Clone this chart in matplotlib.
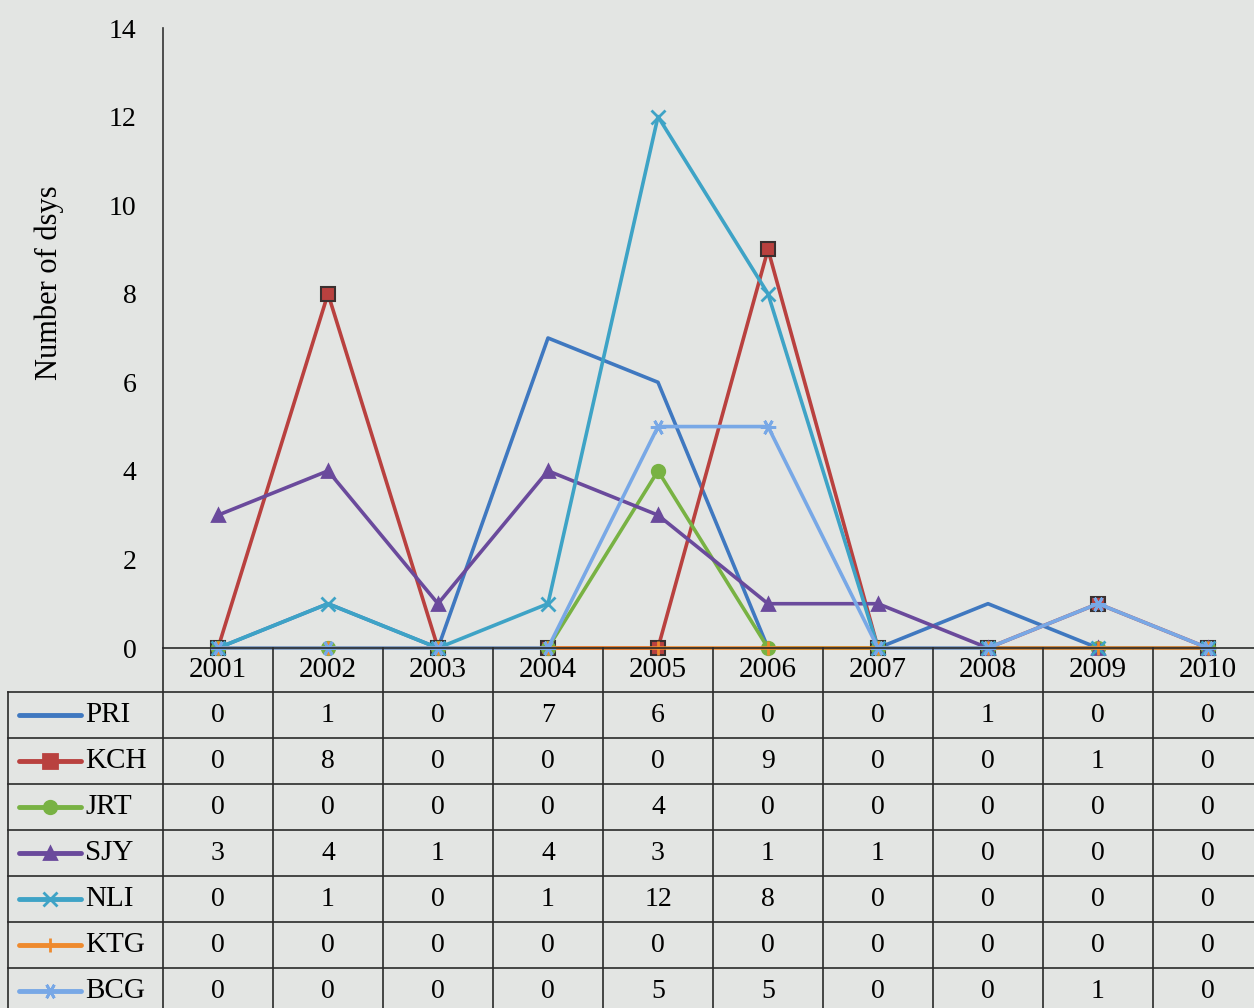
import numpy as np
import matplotlib
matplotlib.use("Agg")
import matplotlib.pyplot as plt
from matplotlib.lines import Line2D

years = ["2001", "2002", "2003", "2004", "2005", "2006", "2007", "2008", "2009", "2010"]
names = ["PRI", "KCH", "JRT", "SJY", "NLI", "KTG", "BCG"]
pri = [0, 1, 0, 7, 6, 0, 0, 1, 0, 0]
kch = [0, 8, 0, 0, 0, 9, 0, 0, 1, 0]
jrt = [0, 0, 0, 0, 4, 0, 0, 0, 0, 0]
sjy = [3, 4, 1, 4, 3, 1, 1, 0, 0, 0]
nli = [0, 1, 0, 1, 12, 8, 0, 0, 0, 0]
ktg = [0, 0, 0, 0, 0, 0, 0, 0, 0, 0]
bcg = [0, 0, 0, 0, 5, 5, 0, 0, 1, 0]
series = [pri, kch, jrt, sjy, nli, ktg, bcg]

colors = ["#3f78c0", "#b9413f", "#78b243", "#6a4a9c", "#3ea3c6", "#ee8a2e", "#78a8e6"]
markers = [None, "s", "o", "^", "x", "|", (6, 2, 90)]
msizes = [0, 10, 9, 9, 10, 10, 11]

bg = "#e3e5e3"
fs = 20
plt.rcParams["font.family"] = ["Liberation Serif", "DejaVu Serif"]

W, H = 1254, 1008
fig = plt.figure(figsize=(W / 100, H / 100), dpi=100, facecolor=bg)

# pixel geometry
ax_left, ax_top, ax_bot = 163, 28, 648
col_w = 110
ax_right = ax_left + col_w * len(years)

ax = fig.add_axes([ax_left / W, 1 - ax_bot / H, (ax_right - ax_left) / W, (ax_bot - ax_top) / H])
ax.set_facecolor(bg)
x = np.arange(len(years))
for i, s in enumerate(series):
    sq = markers[i] == "s"
    ax.plot(x, s, color=colors[i], lw=2.6, marker=markers[i], ms=msizes[i],
            mfc=colors[i], mec="#3a3030" if sq else colors[i],
            mew=1.5 if sq else 2, zorder=2 + i, clip_on=False,
            solid_joinstyle="round")
ax.set_xlim(-0.5, len(years) - 0.5)
ax.set_ylim(0, 14)
ax.set_yticks(range(0, 15, 2))
ax.set_xticks([])
for sp in ["top", "right", "bottom"]:
    ax.spines[sp].set_visible(False)
ax.spines["left"].set_color("#333333")
ax.spines["left"].set_linewidth(1.2)
ax.tick_params(axis="y", length=0, pad=19, labelsize=fs)
ax.set_ylabel("Number of dsys", fontsize=22)
ax.yaxis.set_label_coords(-0.09, 0.589)

# table
tx0 = 8
tab = fig.add_axes([0, 0, 1, 1], facecolor="none")
tab.set_xlim(0, W)
tab.set_ylim(H, 0)
tab.axis("off")

head_bot = 692
row_h = 46
lc = "#2a2a2a"
# header row
tab.plot([ax_left, W], [ax_bot, ax_bot], color=lc, lw=1.2)
for j, yr in enumerate(years):
    cx = ax_left + col_w * (j + 0.5)
    tab.text(cx, (ax_bot + head_bot) / 2, yr, ha="center", va="center", fontsize=21)
for j in range(len(years) + 1):
    xx = ax_left + col_w * j
    tab.plot([xx, xx], [ax_bot, H], color=lc, lw=1.2)
tab.plot([tx0, tx0], [head_bot, H], color=lc, lw=1.2)
for r in range(len(names) + 1):
    yy = head_bot + row_h * r
    tab.plot([tx0, W], [yy, yy], color=lc, lw=1.2)

for r, nm in enumerate(names):
    cy = head_bot + row_h * (r + 0.5)
    tab.add_line(Line2D([19, 81], [cy, cy], color=colors[r], lw=3.5,
                        solid_capstyle="round"))
    if markers[r] is not None:
        tab.plot([50], [cy], marker=markers[r], ms=msizes[r], color=colors[r],
                 mfc=colors[r], mec=colors[r], mew=2)
    tab.text(85, cy, nm, ha="left", va="center", fontsize=21)
    for j, v in enumerate(series[r]):
        tab.text(ax_left + col_w * (j + 0.5), cy, str(v), ha="center",
                 va="center", fontsize=fs)

fig.savefig("out.png", dpi=100, facecolor=bg)
